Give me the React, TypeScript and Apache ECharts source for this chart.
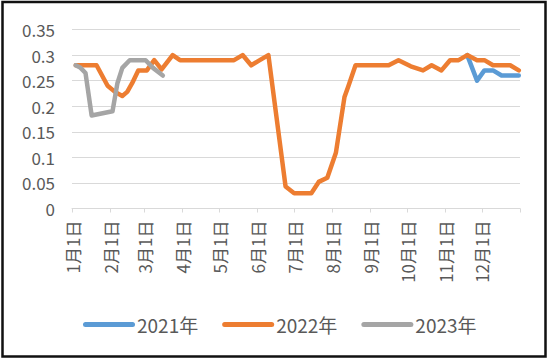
import React, { useEffect, useRef } from "react";
import * as echarts from "echarts";

const seriesNames = ["2021年", "2022年", "2023年"];
const colors = ["#5B9BD5", "#ED7D31", "#A5A5A5"];

// [day of year, value]
const data2021: [number, number][] = [
  [322, 0.3], [330, 0.25], [336, 0.27], [343, 0.27], [350, 0.26], [357, 0.26], [364, 0.26],
];
const data2022: [number, number][] = [
  [3, 0.28], [10, 0.28], [20, 0.28], [29, 0.24], [35, 0.228], [41, 0.22], [45, 0.228],
  [49, 0.245], [54, 0.27], [61, 0.27], [67, 0.29], [73, 0.272], [82, 0.3], [88, 0.29],
  [95, 0.29], [102, 0.29], [109, 0.29], [116, 0.29], [123, 0.29], [132, 0.29],
  [139, 0.3], [146, 0.28], [153, 0.29], [160, 0.3], [174, 0.043], [181, 0.03],
  [188, 0.03], [195, 0.03], [201, 0.052], [208, 0.06], [215, 0.109], [222, 0.218],
  [225, 0.238], [231, 0.28], [238, 0.28], [245, 0.28], [252, 0.28], [258, 0.28],
  [266, 0.29], [276, 0.278], [286, 0.27], [293, 0.28], [301, 0.27], [308, 0.29],
  [315, 0.29], [322, 0.3], [330, 0.29], [336, 0.29], [343, 0.28], [350, 0.28],
  [357, 0.28], [364, 0.27],
];
const data2023: [number, number][] = [
  [3, 0.28], [7, 0.275], [11, 0.265], [16, 0.182], [33, 0.19], [37, 0.245],
  [41, 0.275], [47, 0.29], [60, 0.29], [66, 0.275], [74, 0.26],
];

const monthStarts = [0, 31, 59, 90, 120, 151, 181, 212, 243, 273, 304, 334];
const monthLabels = ["1月1日", "2月1日", "3月1日", "4月1日", "5月1日", "6月1日", "7月1日", "8月1日", "9月1日", "10月1日", "11月1日", "12月1日"];
const yearEnd = 365;

const FONT = '"Noto Sans CJK SC", "Noto Sans", sans-serif';
const capsule = "path://M2.5,0 L49.5,0 A2.5,2.5 0 0 1 49.5,5 L2.5,5 A2.5,2.5 0 0 1 2.5,0 Z";

export default function App() {
  const ref = useRef<HTMLDivElement>(null);
  useEffect(() => {
    if (!ref.current) return;
    const chart = echarts.init(ref.current, undefined, { renderer: "svg" });
    const allData = [data2021, data2022, data2023];
    chart.setOption({
      animation: false,
      backgroundColor: "#fff",
      grid: { left: 72, right: 30, top: 29.5, bottom: 151.5, containLabel: false, outerBoundsMode: "none" },
      xAxis: {
        type: "value",
        min: 0,
        max: yearEnd,
        axisLine: { show: true, lineStyle: { color: "#D9D9D9", width: 1 } },
        axisTick: {
          show: true,
          inside: false,
          length: 4,
          customValues: [...monthStarts, yearEnd],
          lineStyle: { color: "#D9D9D9" },
        },
        axisLabel: {
          customValues: monthStarts,
          rotate: 90,
          margin: 12,
          fontSize: 17,
          fontFamily: FONT,
          color: "#595959",
          formatter: (v: number) => {
            const i = monthStarts.indexOf(Math.round(v));
            return i >= 0 ? monthLabels[i] : "";
          },
        },
        splitLine: { show: false },
      },
      yAxis: {
        type: "value",
        min: 0,
        max: 0.35,
        interval: 0.05,
        axisLine: { show: false },
        axisTick: { show: false },
        axisLabel: { margin: 17, fontSize: 17, fontFamily: FONT, color: "#595959" },
        splitLine: { lineStyle: { color: "#D9D9D9", width: 1 } },
      },
      legend: {
        left: 78,
        top: 310,
        itemWidth: 52,
        itemHeight: 5,
        itemGap: 24,
        symbolKeepAspect: false,
        textStyle: { fontSize: 19, fontFamily: FONT, color: "#595959", padding: [0, 0, 0, -3] },
        data: seriesNames.map((n, i) => ({ name: n, icon: capsule, itemStyle: { color: colors[i] } })),
      },
      series: seriesNames.map((n, i) => ({
        name: n,
        type: "line",
        data: allData[i],
        showSymbol: false,
        symbol: "none",
        color: colors[i],
        lineStyle: { width: 4.5, color: colors[i], cap: "round", join: "round" },
      })),
      graphic: [
        {
          type: "rect",
          shape: { x: 2.5, y: 2, width: 543, height: 354.5 },
          style: { fill: "none", stroke: "#111", lineWidth: 2.5 },
          z: 100,
        },
      ],
    });
    return () => chart.dispose();
  }, []);
  return <div ref={ref} style={{ position: "fixed", left: 0, top: 0, width: 550, height: 360 }} />;
}
